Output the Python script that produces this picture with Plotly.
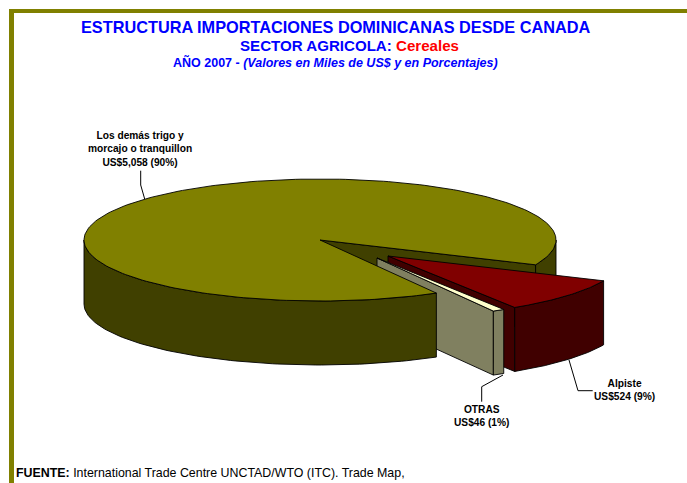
import math
import plotly.graph_objects as go

labels = ["Los demás trigo y<br>morcajo o tranquillon", "Alpiste", "OTRAS"]
values = [5058, 524, 46]
label_pct = ["90%", "9%", "1%"]

OLIVE, OLIVE_D = "#808000", "#404000"
RED, RED_D = "#800000", "#400000"
CREAM, GREY = "#FFFFCC", "#808060"
INK = "#000000"

A, B, DEPTH = 236.0, 61.0, 64.0
main_c = (320.0, 240.0)
alp_c = (388.0, 256.0)
otr_c = (377.0, 258.0)

total = sum(values)
sweep = [v / total * 360 for v in values]
t_upper = -24.0
t_main_end = t_upper - (360 - sweep[0])
t_alp_end = t_upper - sweep[1]


def pt(c, t, dz=0.0):
    r = math.radians(t)
    return c[0] + A * math.cos(r), c[1] - B * math.sin(r) + dz


def arc(c, t0, t1, dz=0.0, n=90):
    return [pt(c, t0 + (t1 - t0) * i / n, dz) for i in range(n + 1)]


fig = go.Figure()


def poly(points, fill, lw=0.9):
    xs, ys = zip(*points)
    fig.add_trace(go.Scatter(x=list(xs) + [xs[0]], y=list(ys) + [ys[0]], mode="lines",
                             fill="toself", fillcolor=fill,
                             line=dict(color=INK, width=lw), hoverinfo="skip", showlegend=False))


def rim(c, t0, t1, fill):
    poly(arc(c, t0, t1) + arc(c, t1, t0, DEPTH), fill)


def wall(c, t, fill):
    poly([c, pt(c, t), pt(c, t, DEPTH), (c[0], c[1] + DEPTH)], fill)


def top(c, t0, t1, fill, n=90):
    poly([c] + arc(c, t0, t1, n=n), fill)


# back to front
wall(main_c, t_upper, OLIVE_D)
rim(main_c, t_upper, 0, OLIVE_D)
wall(alp_c, t_alp_end, RED_D)
rim(alp_c, t_upper, t_alp_end, RED_D)
top(alp_c, t_upper, t_alp_end, RED)
wall(otr_c, t_main_end, GREY)
rim(otr_c, t_alp_end, t_main_end, GREY)
top(otr_c, t_alp_end, t_main_end, CREAM)
rim(main_c, t_main_end, -180, OLIVE_D)
top(main_c, t_upper, 360 + t_main_end, OLIVE, n=240)


def leader(xs, ys):
    fig.add_trace(go.Scatter(x=xs, y=ys, mode="lines", line=dict(color=INK, width=1),
                             hoverinfo="skip", showlegend=False))


leader([140.7, 140.7, 144.7], [170.7, 185, 199])
leader([569, 578, 592.7], [360, 390.7, 390.7])
leader([503, 481.7, 481.7], [375, 386.7, 401.7])


def money(v):
    return f"US${v:,}"


def note(x, y, text, size, color="#000000", anchor="center"):
    fig.add_annotation(x=x, y=y, text=text, showarrow=False, xanchor=anchor, yanchor="middle",
                       align=anchor, font=dict(family="Liberation Sans", size=size, color=color))


BLUE = "#0000FF"
note(335, 27, "<b>ESTRUCTURA IMPORTACIONES DOMINICANAS DESDE CANADA</b>", 16.3, BLUE)
note(349, 45, "<b>SECTOR AGRICOLA: <span style='color:#FF0000'>Cereales</span></b>", 15.1, BLUE)
note(335, 62, "<b>AÑO 2007 - <i>(Valores en Miles de US$ y en Porcentajes)</i></b>", 12.5, BLUE)
note(140, 149, f"<b>{labels[0]}<br>{money(values[0])} ({label_pct[0]})</b>", 10.2)
note(624.5, 390, f"<b>{labels[1]}<br>{money(values[1])} ({label_pct[1]})</b>", 10.2)
note(481.7, 416, f"<b>{labels[2]}<br>{money(values[2])} ({label_pct[2]})</b>", 10.2)
note(14, 473, "<b>FUENTE:</b> International Trade Centre UNCTAD/WTO (ITC). Trade Map,", 12.4, anchor="left")

fig.update_layout(
    width=687, height=483, margin=dict(l=0, r=0, t=0, b=0), autosize=False,
    paper_bgcolor="#FFFFFF", plot_bgcolor="#FFFFFF", showlegend=False,
    xaxis=dict(range=[0, 687], visible=False, fixedrange=True),
    yaxis=dict(range=[483, 0], visible=False, fixedrange=True),
    shapes=[
        dict(type="rect", xref="x", yref="y", x0=9, x1=687, y0=9, y1=13, fillcolor="#808000", line_width=0),
        dict(type="rect", xref="x", yref="y", x0=9, x1=14, y0=9, y1=483, fillcolor="#808000", line_width=0),
    ],
)
fig.write_html("out.html", config={"displayModeBar": False},
               post_script="document.body.style.margin='0';document.documentElement.style.overflow='hidden';")
